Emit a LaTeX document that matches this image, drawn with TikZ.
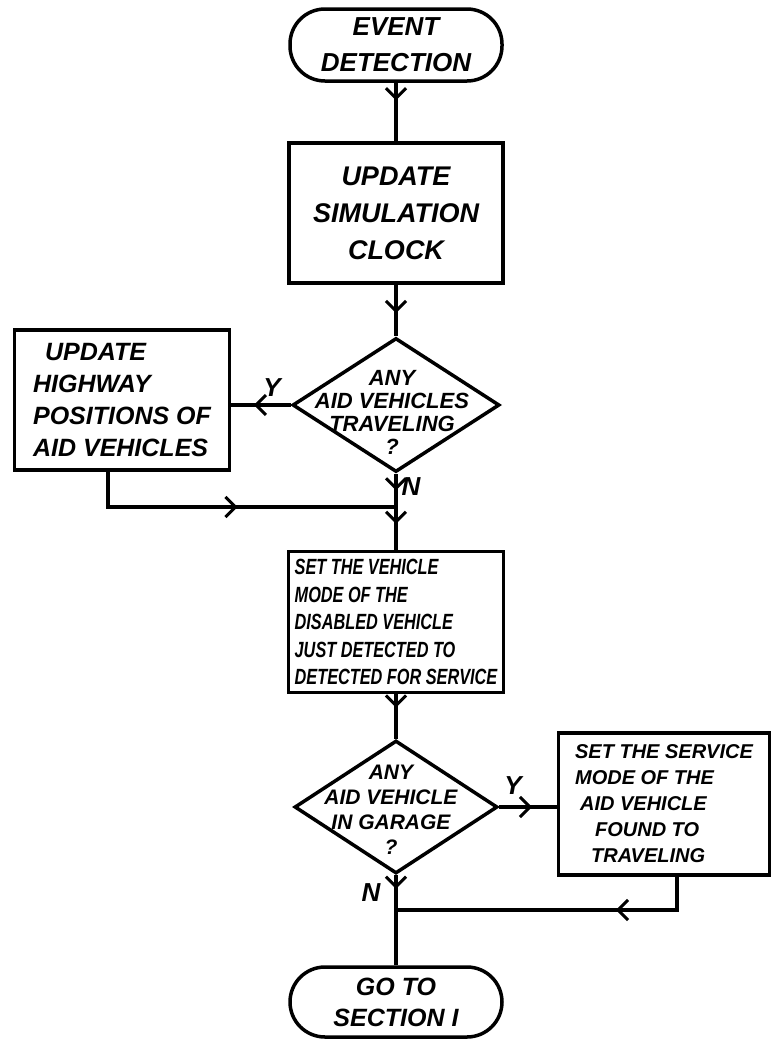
\documentclass[tikz,border=0pt]{standalone}
\usepackage{fontspec}
\setmainfont{Liberation Sans}
\newfontfamily\narrowfont[FakeStretch=0.74]{Liberation Sans}
\usetikzlibrary{shapes.geometric,decorations.markings,arrows.meta}

\begin{document}
\begin{tikzpicture}[x=1pt,y=-1pt,line width=3.5pt,
    terminal/.style={draw,rounded corners=35pt,minimum width=212pt,minimum height=72pt,
      inner sep=0pt,align=center,font=\fontsize{26}{36}\selectfont\bfseries\itshape},
    process/.style={draw,inner sep=0pt},
    decision/.style={draw,diamond,inner sep=0pt},
    hand/.style={font=\fontsize{#1}{#1}\selectfont\bfseries\itshape},
    flow/.style={postaction={decorate,decoration={markings,mark=at position #1 with
      {\arrow{Straight Barb[length=10pt,width=20pt,line width=3pt]}}}}},
    flow/.default=0.5]
  \useasboundingbox (0,0) rectangle (771,1039);
  % main column
  \node[terminal] (start) at (396,45) {EVENT\\DETECTION};
  \node[process,minimum width=214pt,minimum height=140pt,align=center,
    font=\fontsize{27}{37}\selectfont\bfseries\itshape] (clock) at (396,213)
    {UPDATE\\SIMULATION\\CLOCK};
  \node[decision,minimum width=207pt,minimum height=134pt] (dec1) at (396,405) {};
  \node[align=center,font=\fontsize{22}{23}\selectfont\bfseries\itshape] (dec1text)
    at (392,412) {ANY\\AID VEHICLES\\TRAVELING\\?};
  \node[process,minimum width=215pt,minimum height=141pt,align=left,
    font=\fontsize{22}{27.5}\selectfont\narrowfont\bfseries\itshape] (set1) at (396,622)
    {SET THE VEHICLE\\MODE OF THE\\DISABLED VEHICLE\\JUST DETECTED TO\\DETECTED FOR SERVICE};
  \node[decision,minimum width=203pt,minimum height=133pt] (dec2) at (396,807) {};
  \node[align=center,font=\fontsize{21}{25}\selectfont\bfseries\itshape] (dec2text)
    at (391,810) {ANY\\AID VEHICLE\\IN GARAGE\\?};
  \node[terminal,minimum height=70pt,font=\fontsize{25}{31}\selectfont\bfseries\itshape]
    (finish) at (396,1002) {GO TO\\SECTION I};
  % side boxes
  \node[process,minimum width=215pt,minimum height=140pt,align=left,
    font=\fontsize{25}{32}\selectfont\bfseries\itshape] (hwy) at (122,400)
    {\hspace{12pt}UPDATE\\HIGHWAY\\POSITIONS OF\\AID VEHICLES};
  \node[process,minimum width=211pt,minimum height=142pt,align=left,
    font=\fontsize{20}{26}\selectfont\bfseries\itshape] (svc) at (664,804)
    {SET THE SERVICE\\MODE OF THE\\\hspace{5pt}AID VEHICLE\\\hspace{20pt}FOUND TO\\\hspace{16pt}TRAVELING};
  % labels
  \node[hand=26] (y1) at (272,388) {Y};
  \node[hand=26] (n1) at (411,487) {N};
  \node[hand=26] (y2) at (513,786) {Y};
  \node[hand=26] (n2) at (371,893) {N};
  \coordinate (join1) at (396,507);
  \coordinate (join2) at (396,910);
  % connectors
  \draw[flow=0.3] (start) -- (clock);
  \draw[flow=0.55] (clock) -- (dec1);
  \draw[flow=0.62] (dec1.west) -- (dec1.west -| hwy.east);
  \draw[flow=0.22,flow=0.66] (dec1) -- (set1);
  \draw[flow=0.51] ([xshift=-14pt]hwy.south) |- (join1);
  \draw[flow=0.3] (set1) -- (dec2);
  \draw[flow=0.57] (dec2.east) -- (dec2.east -| svc.west);
  \draw[flow=0.3] ([xshift=13pt]svc.south) |- (join2);
  \draw[flow=0.15] (dec2) -- (finish);
\end{tikzpicture}
\end{document}
